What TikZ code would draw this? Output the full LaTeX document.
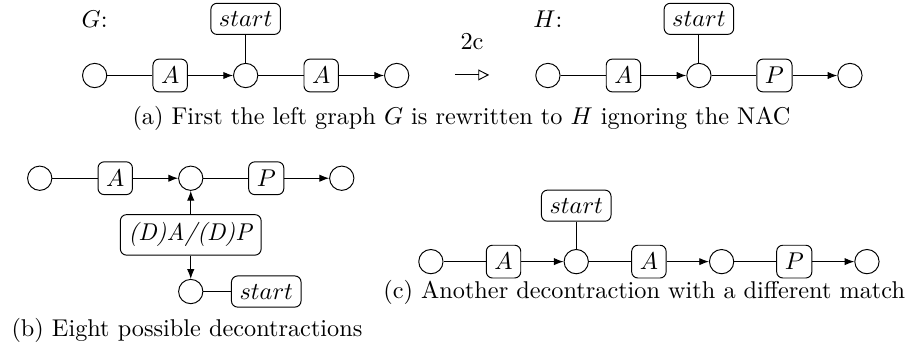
\documentclass[tikz,border=0pt]{standalone}
\usepackage{amsmath}
\usetikzlibrary{arrows.meta,positioning}

\begin{document}
\begin{tikzpicture}[
      node distance=0.82cm and 1.093cm, on grid,
      vert/.style={draw, circle, minimum size=10pt, inner sep=0pt},
      lbl/.style={draw, rounded corners=2.5pt, inner sep=3.33pt},
      arc/.style={-{Latex[length=4pt,width=3pt]}},
      rule/.style={-{Triangle[open,length=4.5pt,width=4.5pt]}},
    ]
    \useasboundingbox (0,0) rectangle (13.375,-5.066);

    % (a) graph G
    \node[vert] (g1) at (1.370,-1.093) {};
    \node[lbl, right=of g1] (ga1) {$A$};
    \node[vert, right=of ga1] (g2) {};
    \node[lbl, right=of g2] (ga2) {$A$};
    \node[vert, right=of ga2] (g3) {};
    \node[lbl, above=of g2] (gs) {$start$};
    \node (gname) at (g1 |- gs) {$G$:};
    \draw (g1) -- (ga1); \draw[arc] (ga1) -- (g2);
    \draw (g2) -- (ga2); \draw[arc] (ga2) -- (g3);
    \draw (gs) -- (g2);

    % rule application
    \coordinate (r0) at (6.585,-1.085);
    \coordinate (r1) at (7.081,-1.085);
    \draw[rule] (r0) -- node[above=7pt] (rname) {2c} (r1);

    % (a) graph H
    \node[vert] (h1) at (7.931,-1.093) {};
    \node[lbl, right=of h1] (ha) {$A$};
    \node[vert, right=of ha] (h2) {};
    \node[lbl, right=of h2] (hp) {$P$};
    \node[vert, right=of hp] (h3) {};
    \node[lbl, above=of h2] (hs) {$start$};
    \node (hname) at (h1 |- hs) {$H$:};
    \draw (h1) -- (ha); \draw[arc] (ha) -- (h2);
    \draw (h2) -- (hp); \draw[arc] (hp) -- (h3);
    \draw (hs) -- (h2);

    \node (capa) at (6.68,-1.71)
      {(a) First the left graph $G$ is rewritten to $H$ ignoring the NAC};

    % (b) decontractions
    \node[vert] (b1) at (0.575,-2.580) {};
    \node[lbl, right=of b1] (ba) {$A$};
    \node[vert, right=of ba] (b2) {};
    \node[lbl, right=of b2] (bp) {$P$};
    \node[vert, right=of bp] (b3) {};
    \node[lbl, below=of b2] (bd) {\textit{(D)A/(D)P}};
    \node[vert, below=of bd] (b4) {};
    \node[lbl, right=of b4] (bs) {$start$};
    \draw (b1) -- (ba); \draw[arc] (ba) -- (b2);
    \draw (b2) -- (bp); \draw[arc] (bp) -- (b3);
    \draw[arc] (bd) -- (b2); \draw[arc] (bd) -- (b4);
    \draw (b4) -- (bs);

    \node (capb) at (2.706,-4.787) {(b) Eight possible decontractions};

    % (c) other match
    \begin{scope}[node distance=0.81cm and 1.052cm]
      \node[vert] (c1) at (6.237,-3.787) {};
      \node[lbl, right=of c1] (ca1) {$A$};
      \node[vert, right=of ca1] (c2) {};
      \node[lbl, right=of c2] (ca2) {$A$};
      \node[vert, right=of ca2] (c3) {};
      \node[lbl, right=of c3] (cp) {$P$};
      \node[vert, right=of cp] (c4) {};
      \node[lbl, above=of c2] (cs) {$start$};
      \draw (c1) -- (ca1); \draw[arc] (ca1) -- (c2);
      \draw (c2) -- (ca2); \draw[arc] (ca2) -- (c3);
      \draw (c3) -- (cp); \draw[arc] (cp) -- (c4);
      \draw (cs) -- (c2);
    \end{scope}

    \node[anchor=west] (capc) at (5.426,-4.233)
      {(c) Another decontraction with a different match};
  \end{tikzpicture}
\end{document}
